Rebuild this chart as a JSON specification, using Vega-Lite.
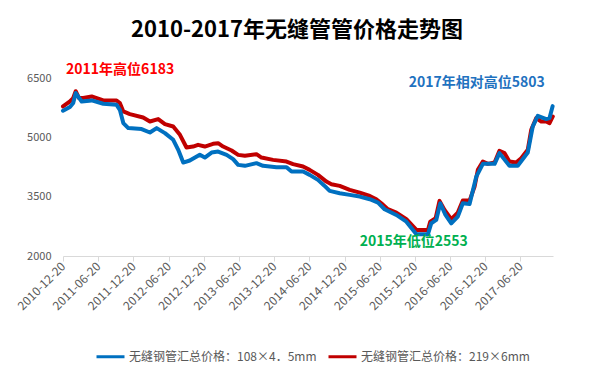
{
  "$schema": "https://vega.github.io/schema/vega-lite/v6.json",
  "autosize": "none",
  "width": 490,
  "height": 197,
  "padding": {"left": 63, "top": 59, "right": 36, "bottom": 126},
  "background": "white",
  "title": {
    "text": "2010-2017年无缝管管价格走势图",
    "font": "Noto Sans CJK SC",
    "fontSize": 22,
    "fontWeight": "bold",
    "color": "#000000",
    "anchor": "middle",
    "frame": "group",
    "dx": -11,
    "baseline": "alphabetic",
    "offset": 0
  },
  "config": {
    "view": {"stroke": null},
    "font": "Noto Sans CJK SC",
    "axis": {"grid": false, "title": null, "labelFont": "Noto Sans CJK SC", "labelColor": "#595959", "labelFontSize": 11}
  },
  "datasets": {
    "prices": [
      {"d": "2010-12-20", "s": "无缝钢管汇总价格：219×6mm", "v": 5795},
      {"d": "2011-01-25", "s": "无缝钢管汇总价格：219×6mm", "v": 5922},
      {"d": "2011-02-11", "s": "无缝钢管汇总价格：219×6mm", "v": 6009},
      {"d": "2011-02-24", "s": "无缝钢管汇总价格：219×6mm", "v": 6183},
      {"d": "2011-03-13", "s": "无缝钢管汇总价格：219×6mm", "v": 6009},
      {"d": "2011-04-04", "s": "无缝钢管汇总价格：219×6mm", "v": 6009},
      {"d": "2011-05-18", "s": "无缝钢管汇总价格：219×6mm", "v": 6050},
      {"d": "2011-06-13", "s": "无缝钢管汇总价格：219×6mm", "v": 6009},
      {"d": "2011-07-17", "s": "无缝钢管汇总价格：219×6mm", "v": 5948},
      {"d": "2011-09-24", "s": "无缝钢管汇总价格：219×6mm", "v": 5948},
      {"d": "2011-10-11", "s": "无缝钢管汇总价格：219×6mm", "v": 5882},
      {"d": "2011-10-29", "s": "无缝钢管汇总价格：219×6mm", "v": 5668},
      {"d": "2011-12-02", "s": "无缝钢管汇总价格：219×6mm", "v": 5602},
      {"d": "2012-02-09", "s": "无缝钢管汇总价格：219×6mm", "v": 5516},
      {"d": "2012-03-15", "s": "无缝钢管汇总价格：219×6mm", "v": 5414},
      {"d": "2012-04-27", "s": "无缝钢管汇总价格：219×6mm", "v": 5475},
      {"d": "2012-06-01", "s": "无缝钢管汇总价格：219×6mm", "v": 5348},
      {"d": "2012-07-14", "s": "无缝钢管汇总价格：219×6mm", "v": 5287},
      {"d": "2012-08-18", "s": "无缝钢管汇总价格：219×6mm", "v": 5076},
      {"d": "2012-09-21", "s": "无缝钢管汇总价格：219×6mm", "v": 4753},
      {"d": "2012-10-25", "s": "无缝钢管汇总价格：219×6mm", "v": 4778},
      {"d": "2012-11-20", "s": "无缝钢管汇总价格：219×6mm", "v": 4822},
      {"d": "2012-12-25", "s": "无缝钢管汇总价格：219×6mm", "v": 4778},
      {"d": "2013-02-06", "s": "无缝钢管汇总价格：219×6mm", "v": 4847},
      {"d": "2013-03-04", "s": "无缝钢管汇总价格：219×6mm", "v": 4864},
      {"d": "2013-03-30", "s": "无缝钢管汇总价格：219×6mm", "v": 4778},
      {"d": "2013-05-13", "s": "无缝钢管汇总价格：219×6mm", "v": 4677},
      {"d": "2013-06-16", "s": "无缝钢管汇总价格：219×6mm", "v": 4567},
      {"d": "2013-07-21", "s": "无缝钢管汇总价格：219×6mm", "v": 4542},
      {"d": "2013-09-19", "s": "无缝钢管汇总价格：219×6mm", "v": 4585},
      {"d": "2013-10-15", "s": "无缝钢管汇总价格：219×6mm", "v": 4499},
      {"d": "2013-12-14", "s": "无缝钢管汇总价格：219×6mm", "v": 4440},
      {"d": "2014-02-22", "s": "无缝钢管汇总价格：219×6mm", "v": 4397},
      {"d": "2014-03-28", "s": "无缝钢管汇总价格：219×6mm", "v": 4331},
      {"d": "2014-05-19", "s": "无缝钢管汇总价格：219×6mm", "v": 4270},
      {"d": "2014-06-22", "s": "无缝钢管汇总价格：219×6mm", "v": 4186},
      {"d": "2014-08-04", "s": "无缝钢管汇总价格：219×6mm", "v": 4059},
      {"d": "2014-09-17", "s": "无缝钢管汇总价格：219×6mm", "v": 3889},
      {"d": "2014-10-13", "s": "无缝钢管汇总价格：219×6mm", "v": 3823},
      {"d": "2014-11-25", "s": "无缝钢管汇总价格：219×6mm", "v": 3779},
      {"d": "2015-01-16", "s": "无缝钢管汇总价格：219×6mm", "v": 3678},
      {"d": "2015-03-09", "s": "无缝钢管汇总价格：219×6mm", "v": 3609},
      {"d": "2015-04-30", "s": "无缝钢管汇总价格：219×6mm", "v": 3525},
      {"d": "2015-06-03", "s": "无缝钢管汇总价格：219×6mm", "v": 3441},
      {"d": "2015-06-29", "s": "无缝钢管汇总价格：219×6mm", "v": 3340},
      {"d": "2015-08-02", "s": "无缝钢管汇总价格：219×6mm", "v": 3187},
      {"d": "2015-09-15", "s": "无缝钢管汇总价格：219×6mm", "v": 3101},
      {"d": "2015-11-06", "s": "无缝钢管汇总价格：219×6mm", "v": 2933},
      {"d": "2015-12-28", "s": "无缝钢管汇总价格：219×6mm", "v": 2661},
      {"d": "2016-02-26", "s": "无缝钢管汇总价格：219×6mm", "v": 2661},
      {"d": "2016-03-09", "s": "无缝钢管汇总价格：219×6mm", "v": 2872},
      {"d": "2016-04-06", "s": "无缝钢管汇总价格：219×6mm", "v": 2958},
      {"d": "2016-04-26", "s": "无缝钢管汇总价格：219×6mm", "v": 3400},
      {"d": "2016-05-22", "s": "无缝钢管汇总价格：219×6mm", "v": 3169},
      {"d": "2016-06-26", "s": "无缝钢管汇总价格：219×6mm", "v": 2933},
      {"d": "2016-07-30", "s": "无缝钢管汇总价格：219×6mm", "v": 3101},
      {"d": "2016-08-25", "s": "无缝钢管汇总价格：219×6mm", "v": 3406},
      {"d": "2016-09-29", "s": "无缝钢管汇总价格：219×6mm", "v": 3406},
      {"d": "2016-10-25", "s": "无缝钢管汇总价格：219×6mm", "v": 3762},
      {"d": "2016-11-11", "s": "无缝钢管汇总价格：219×6mm", "v": 4186},
      {"d": "2016-12-07", "s": "无缝钢管汇总价格：219×6mm", "v": 4397},
      {"d": "2017-01-02", "s": "无缝钢管汇总价格：219×6mm", "v": 4339},
      {"d": "2017-02-06", "s": "无缝钢管汇总价格：219×6mm", "v": 4372},
      {"d": "2017-03-03", "s": "无缝钢管汇总价格：219×6mm", "v": 4669},
      {"d": "2017-03-29", "s": "无缝钢管汇总价格：219×6mm", "v": 4611},
      {"d": "2017-04-24", "s": "无缝钢管汇总价格：219×6mm", "v": 4397},
      {"d": "2017-05-29", "s": "无缝钢管汇总价格：219×6mm", "v": 4372},
      {"d": "2017-06-24", "s": "无缝钢管汇总价格：219×6mm", "v": 4483},
      {"d": "2017-07-28", "s": "无缝钢管汇总价格：219×6mm", "v": 4695},
      {"d": "2017-08-15", "s": "无缝钢管汇总价格：219×6mm", "v": 5203},
      {"d": "2017-09-10", "s": "无缝钢管汇总价格：219×6mm", "v": 5500},
      {"d": "2017-10-06", "s": "无缝钢管汇总价格：219×6mm", "v": 5414},
      {"d": "2017-11-01", "s": "无缝钢管汇总价格：219×6mm", "v": 5414},
      {"d": "2017-11-18", "s": "无缝钢管汇总价格：219×6mm", "v": 5373},
      {"d": "2017-12-05", "s": "无缝钢管汇总价格：219×6mm", "v": 5541},

      {"d": "2010-12-20", "s": "无缝钢管汇总价格：108×4．5mm", "v": 5686},
      {"d": "2011-01-25", "s": "无缝钢管汇总价格：108×4．5mm", "v": 5780},
      {"d": "2011-02-11", "s": "无缝钢管汇总价格：108×4．5mm", "v": 5882},
      {"d": "2011-02-24", "s": "无缝钢管汇总价格：108×4．5mm", "v": 6136},
      {"d": "2011-03-27", "s": "无缝钢管汇总价格：108×4．5mm", "v": 5922},
      {"d": "2011-05-18", "s": "无缝钢管汇总价格：108×4．5mm", "v": 5948},
      {"d": "2011-07-17", "s": "无缝钢管汇总价格：108×4．5mm", "v": 5864},
      {"d": "2011-09-24", "s": "无缝钢管汇总价格：108×4．5mm", "v": 5838},
      {"d": "2011-10-11", "s": "无缝钢管汇总价格：108×4．5mm", "v": 5711},
      {"d": "2011-10-29", "s": "无缝钢管汇总价格：108×4．5mm", "v": 5373},
      {"d": "2011-11-24", "s": "无缝钢管汇总价格：108×4．5mm", "v": 5246},
      {"d": "2012-02-01", "s": "无缝钢管汇总价格：108×4．5mm", "v": 5221},
      {"d": "2012-03-15", "s": "无缝钢管汇总价格：108×4．5mm", "v": 5134},
      {"d": "2012-04-19", "s": "无缝钢管汇总价格：108×4．5mm", "v": 5246},
      {"d": "2012-06-01", "s": "无缝钢管汇总价格：108×4．5mm", "v": 5119},
      {"d": "2012-07-14", "s": "无缝钢管汇总价格：108×4．5mm", "v": 4949},
      {"d": "2012-08-09", "s": "无缝钢管汇总价格：108×4．5mm", "v": 4695},
      {"d": "2012-09-04", "s": "无缝钢管汇总价格：108×4．5mm", "v": 4372},
      {"d": "2012-10-08", "s": "无缝钢管汇总价格：108×4．5mm", "v": 4423},
      {"d": "2012-11-29", "s": "无缝钢管汇总价格：108×4．5mm", "v": 4567},
      {"d": "2012-12-25", "s": "无缝钢管汇总价格：108×4．5mm", "v": 4499},
      {"d": "2013-01-29", "s": "无缝钢管汇总价格：108×4．5mm", "v": 4626},
      {"d": "2013-03-04", "s": "无缝钢管汇总价格：108×4．5mm", "v": 4651},
      {"d": "2013-04-17", "s": "无缝钢管汇总价格：108×4．5mm", "v": 4567},
      {"d": "2013-05-21", "s": "无缝钢管汇总价格：108×4．5mm", "v": 4458},
      {"d": "2013-06-16", "s": "无缝钢管汇总价格：108×4．5mm", "v": 4313},
      {"d": "2013-07-21", "s": "无缝钢管汇总价格：108×4．5mm", "v": 4288},
      {"d": "2013-09-19", "s": "无缝钢管汇总价格：108×4．5mm", "v": 4356},
      {"d": "2013-10-23", "s": "无缝钢管汇总价格：108×4．5mm", "v": 4288},
      {"d": "2014-01-01", "s": "无缝钢管汇总价格：108×4．5mm", "v": 4255},
      {"d": "2014-02-22", "s": "无缝钢管汇总价格：108×4．5mm", "v": 4255},
      {"d": "2014-03-20", "s": "无缝钢管汇总价格：108×4．5mm", "v": 4143},
      {"d": "2014-05-19", "s": "无缝钢管汇总价格：108×4．5mm", "v": 4143},
      {"d": "2014-06-22", "s": "无缝钢管汇总价格：108×4．5mm", "v": 4059},
      {"d": "2014-08-04", "s": "无缝钢管汇总价格：108×4．5mm", "v": 3932},
      {"d": "2014-09-08", "s": "无缝钢管汇总价格：108×4．5mm", "v": 3779},
      {"d": "2014-10-04", "s": "无缝钢管汇总价格：108×4．5mm", "v": 3652},
      {"d": "2014-11-25", "s": "无缝钢管汇总价格：108×4．5mm", "v": 3594},
      {"d": "2015-01-16", "s": "无缝钢管汇总价格：108×4．5mm", "v": 3551},
      {"d": "2015-03-09", "s": "无缝钢管汇总价格：108×4．5mm", "v": 3508},
      {"d": "2015-04-30", "s": "无缝钢管汇总价格：108×4．5mm", "v": 3441},
      {"d": "2015-06-12", "s": "无缝钢管汇总价格：108×4．5mm", "v": 3355},
      {"d": "2015-07-16", "s": "无缝钢管汇总价格：108×4．5mm", "v": 3187},
      {"d": "2015-09-15", "s": "无缝钢管汇总价格：108×4．5mm", "v": 3042},
      {"d": "2015-11-06", "s": "无缝钢管汇总价格：108×4．5mm", "v": 2872},
      {"d": "2015-12-28", "s": "无缝钢管汇总价格：108×4．5mm", "v": 2553},
      {"d": "2016-02-26", "s": "无缝钢管汇总价格：108×4．5mm", "v": 2553},
      {"d": "2016-03-14", "s": "无缝钢管汇总价格：108×4．5mm", "v": 2829},
      {"d": "2016-04-09", "s": "无缝钢管汇总价格：108×4．5mm", "v": 2915},
      {"d": "2016-04-30", "s": "无缝钢管汇总价格：108×4．5mm", "v": 3340},
      {"d": "2016-05-27", "s": "无缝钢管汇总价格：108×4．5mm", "v": 3042},
      {"d": "2016-06-26", "s": "无缝钢管汇总价格：108×4．5mm", "v": 2829},
      {"d": "2016-07-30", "s": "无缝钢管汇总价格：108×4．5mm", "v": 2999},
      {"d": "2016-08-25", "s": "无缝钢管汇总价格：108×4．5mm", "v": 3340},
      {"d": "2016-09-29", "s": "无缝钢管汇总价格：108×4．5mm", "v": 3322},
      {"d": "2016-11-03", "s": "无缝钢管汇总价格：108×4．5mm", "v": 4016},
      {"d": "2016-12-07", "s": "无缝钢管汇总价格：108×4．5mm", "v": 4339},
      {"d": "2017-02-06", "s": "无缝钢管汇总价格：108×4．5mm", "v": 4339},
      {"d": "2017-03-03", "s": "无缝钢管汇总价格：108×4．5mm", "v": 4611},
      {"d": "2017-04-24", "s": "无缝钢管汇总价格：108×4．5mm", "v": 4288},
      {"d": "2017-06-06", "s": "无缝钢管汇总价格：108×4．5mm", "v": 4288},
      {"d": "2017-07-28", "s": "无缝钢管汇总价格：108×4．5mm", "v": 4626},
      {"d": "2017-08-23", "s": "无缝钢管汇总价格：108×4．5mm", "v": 5287},
      {"d": "2017-09-18", "s": "无缝钢管汇总价格：108×4．5mm", "v": 5559},
      {"d": "2017-11-01", "s": "无缝钢管汇总价格：108×4．5mm", "v": 5475},
      {"d": "2017-11-18", "s": "无缝钢管汇总价格：108×4．5mm", "v": 5500},
      {"d": "2017-12-04", "s": "无缝钢管汇总价格：108×4．5mm", "v": 5803}
    ]
  },
  "layer": [
    {
      "data": {"name": "prices"},
      "mark": {"type": "line", "strokeWidth": 4, "strokeJoin": "round", "strokeCap": "round"},
      "encoding": {
        "x": {
          "field": "d", "type": "temporal",
          "scale": {"type": "utc", "domain": [1292803200000, 1512518400000]},
          "axis": {
            "values": [1292803200000, 1308528000000, 1324339200000, 1340150400000, 1355961600000, 1371686400000, 1387497600000, 1403222400000, 1419033600000, 1434758400000, 1450569600000, 1466380800000, 1482192000000, 1497916800000],
            "tickCount": 40,
            "format": "%Y-%m-%d",
            "labelAngle": -45,
            "labelAlign": "right",
            "labelBaseline": "middle",
            "labelPadding": 3,
            "labelFontSize": 12,
            "domainColor": "#D9D9D9",
            "tickColor": "#D9D9D9",
            "tickSize": 5,
            "labelFlush": false,
            "labelOverlap": false,
            "labelBound": false
          }
        },
        "y": {
          "field": "v", "type": "quantitative",
          "scale": {"domain": [2000, 7000], "nice": false, "zero": false},
          "axis": {"values": [2000, 3500, 5000, 6500], "format": "d", "domain": false, "ticks": false, "labelPadding": 12}
        },
        "color": {
          "field": "s", "type": "nominal",
          "scale": {"domain": ["无缝钢管汇总价格：108×4．5mm", "无缝钢管汇总价格：219×6mm"], "range": ["#0070C0", "#C00000"]},
          "legend": {
            "title": null,
            "orient": "none",
            "direction": "horizontal",
            "legendX": 32,
            "legendY": 282,
            "symbolType": "stroke",
            "symbolSize": 784,
            "symbolStrokeWidth": 3,
            "labelFontSize": 12,
            "labelColor": "#595959",
            "labelFont": "Noto Sans CJK SC",
            "labelOffset": 3,
            "columnPadding": 5,
            "labelLimit": 300
          }
        }
      }
    },
    {
      "data": {"values": [{"d": "2011-01-05", "v": 6728, "t": "2011年高位6183"}]},
      "mark": {"type": "text", "align": "left", "baseline": "middle", "fontSize": 14, "fontWeight": "bold", "color": "#FF0000", "clip": false},
      "encoding": {"x": {"field": "d", "type": "temporal"}, "y": {"field": "v", "type": "quantitative"}, "text": {"field": "t"}}
    },
    {
      "data": {"values": [{"d": "2015-11-18", "v": 6398, "t": "2017年相对高位5803"}]},
      "mark": {"type": "text", "align": "left", "baseline": "middle", "fontSize": 14, "fontWeight": "bold", "color": "#1F72C0", "clip": false},
      "encoding": {"x": {"field": "d", "type": "temporal"}, "y": {"field": "v", "type": "quantitative"}, "text": {"field": "t"}}
    },
    {
      "data": {"values": [{"d": "2015-03-09", "v": 2356, "t": "2015年低位2553"}]},
      "mark": {"type": "text", "align": "left", "baseline": "middle", "fontSize": 14, "fontWeight": "bold", "color": "#00B050", "clip": false},
      "encoding": {"x": {"field": "d", "type": "temporal"}, "y": {"field": "v", "type": "quantitative"}, "text": {"field": "t"}}
    }
  ]
}
